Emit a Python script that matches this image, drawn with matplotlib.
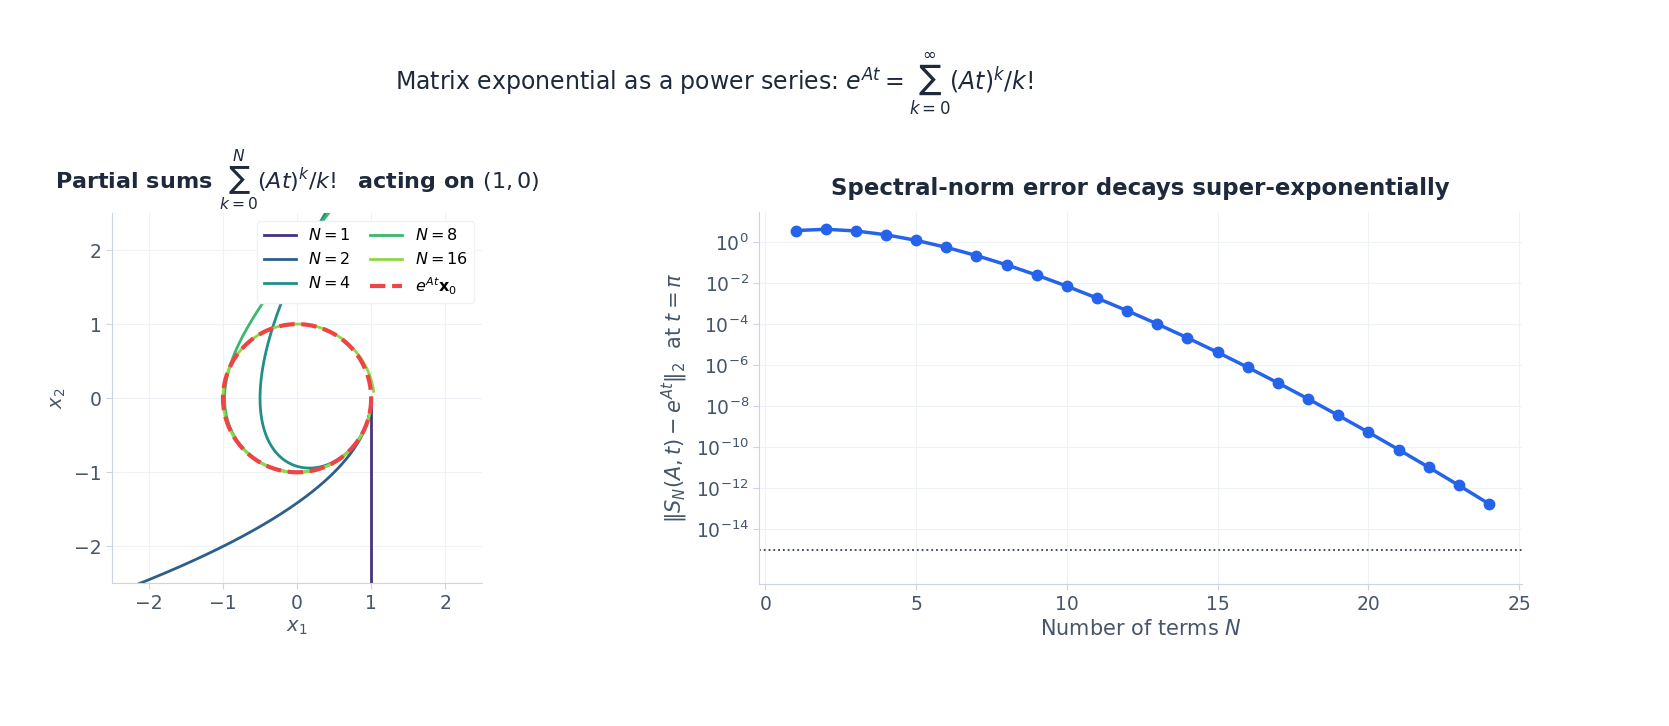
import numpy as np
import matplotlib.pyplot as plt

# rotation generator and start vector
A = np.array([[0.0, 1.0], [-1.0, 0.0]])
x0 = np.array([1.0, 0.0])
orders = [1, 2, 4, 8, 16]
order_colors = ["#46327e", "#2c5f8a", "#1f8f88", "#3bb86d", "#8fd744"]
n_terms = list(range(1, 25))
t_eval = np.pi
eps_level = 1e-15

TXT = "#1e293b"
TICK = "#475569"
SPINE = "#cbd5e1"
GRID = "#eef2f6"


def partial_sum(M, N):
    S = np.eye(2)
    term = np.eye(2)
    for k in range(1, N + 1):
        term = term @ M / k
        S = S + term
    return S


def expm_rot(t):
    return np.array([[np.cos(t), np.sin(t)], [-np.sin(t), np.cos(t)]])


ts = np.linspace(0, 2 * np.pi, 400)

fig = plt.figure(figsize=(16.69, 7.26), dpi=100)
fig.suptitle(r"Matrix exponential as a power series: $e^{At} = \sum_{k=0}^{\infty}(At)^k/k!$",
             fontsize=17, color=TXT, x=0.428, y=0.93)

ax1 = fig.add_axes([0.067, 0.195, 0.222, 0.513])
ax2 = fig.add_axes([0.455, 0.195, 0.457, 0.513])

for N, c in zip(orders, order_colors):
    pts = np.array([partial_sum(A * t, N) @ x0 for t in ts])
    ax1.plot(pts[:, 0], pts[:, 1], color=c, lw=2, label=f"$N={N}$")
exact = np.array([expm_rot(t) @ x0 for t in ts])
ax1.plot(exact[:, 0], exact[:, 1], color="#ef4444", lw=3, ls="--",
         label=r"$e^{At}\mathbf{x}_0$")
ax1.set_xlim(-2.5, 2.5)
ax1.set_ylim(-2.5, 2.5)
ax1.set_aspect("equal")
ax1.set_xticks([-2, -1, 0, 1, 2])
ax1.set_yticks([-2, -1, 0, 1, 2])
ax1.set_xlabel("$x_1$", fontsize=14, color=TICK)
ax1.set_ylabel("$x_2$", fontsize=14, color=TICK)
ax1.set_title(r"Partial sums $\sum_{k=0}^{N}(At)^k/k!$  acting on $(1,0)$",
              fontsize=16, fontweight="bold", color=TXT, pad=12)
ax1.legend(ncol=2, loc="upper right", fontsize=11.5, framealpha=1,
           edgecolor=GRID, handlelength=2, columnspacing=1.2)

errs = [np.linalg.norm(partial_sum(A * t_eval, N) - expm_rot(t_eval), 2) for N in n_terms]
ax2.semilogy(n_terms, errs, color="#2563eb", lw=2.5, marker="o", ms=7.5)
ax2.axhline(eps_level, color="#334155", lw=1.3, ls=":")
ax2.set_xlim(-0.2, 25.1)
ax2.set_ylim(2e-17, 3e1)
ax2.set_yticks([10.0 ** e for e in range(-14, 1, 2)])
ax2.set_xticks([0, 5, 10, 15, 20, 25])
ax2.minorticks_off()
ax2.set_xlabel("Number of terms $N$", fontsize=15, color=TICK)
ax2.set_ylabel(r"$\|S_N(A,t)-e^{At}\|_2$  at $t=\pi$", fontsize=15, color=TICK)
ax2.set_title("Spectral-norm error decays super-exponentially",
              fontsize=16.5, fontweight="bold", color=TXT, pad=12)

for ax in (ax1, ax2):
    ax.grid(True, color=GRID, lw=0.8)
    ax.set_axisbelow(True)
    for s in ("top", "right"):
        ax.spines[s].set_visible(False)
    for s in ("left", "bottom"):
        ax.spines[s].set_color(SPINE)
    ax.tick_params(colors=TICK, labelsize=13.5, length=4, color=SPINE)

fig.savefig("out.png", dpi=100)
